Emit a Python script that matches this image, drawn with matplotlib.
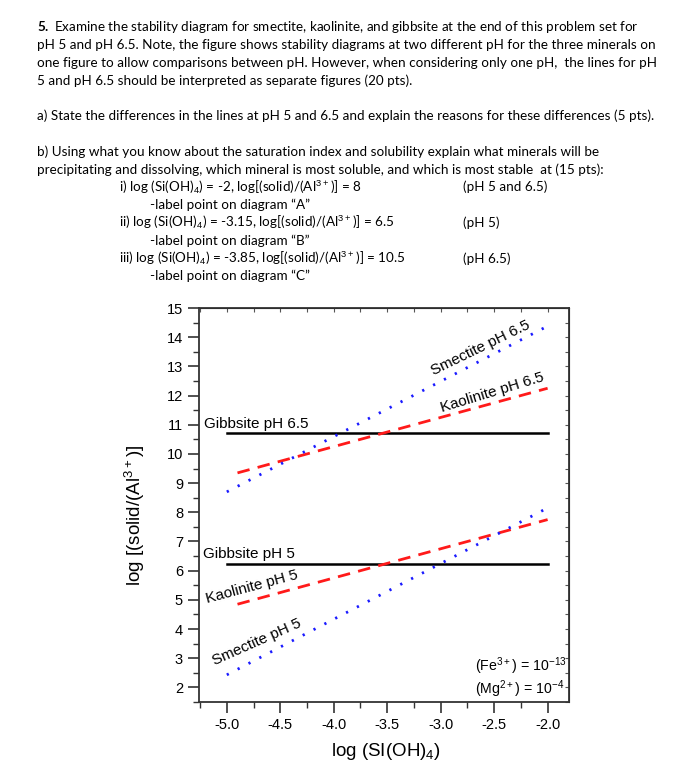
#!/usr/bin/env python

import numpy as np
import matplotlib.pyplot as plt

# ─── Data ───────────────────────────────────────────────────────────
x_range = [-5.0, -2.0]                     # gibbsite lines span
kaol_x = [-4.9, -2.0]
smec_x = [-5.0, -2.0]

gibbsite_65 = [10.72, 10.72]
gibbsite_5 = [6.23, 6.23]
kaolinite_65 = [9.35, 12.25]
kaolinite_5 = [4.85, 7.75]
smectite_65 = [8.70, 14.38]
smectite_5 = [2.43, 8.15]

x_ticks = [-5.0, -4.5, -4.0, -3.5, -3.0, -2.5, -2.0]
y_ticks = list(range(2, 16))

question = [
    (r"$\bf{5.}$ Examine the stability diagram for smectite, kaolinite, and gibbsite at the end of this problem set for", 37),
    ("pH 5 and pH 6.5. Note, the figure shows stability diagrams at two different pH for the three minerals on", 37),
    ("one figure to allow comparisons between pH. However, when considering only one pH,  the lines for pH", 37),
    ("5 and pH 6.5 should be interpreted as separate figures (20 pts).", 37),
    (None, 0),
    ("a) State the differences in the lines at pH 5 and 6.5 and explain the reasons for these differences (5 pts).", 37),
    (None, 0),
    ("b) Using what you know about the saturation index and solubility explain what minerals will be", 37),
    ("precipitating and dissolving, which mineral is most soluble, and which is most stable  at (15 pts):", 37),
    (r"i) log (Si(OH)$_4$) = -2, log[(solid)/(Al$^{3+}$)] = 8", 119),
    ("-label point on diagram \u201cA\u201d", 150),
    (r"ii) log (Si(OH)$_4$) = -3.15, log[(solid)/(Al$^{3+}$)] = 6.5", 119),
    ("-label point on diagram \u201cB\u201d", 150),
    (r"iii) log (Si(OH)$_4$) = -3.85, log[(solid)/(Al$^{3+}$)] = 10.5", 119),
    ("-label point on diagram \u201cC\u201d", 150),
]
ph_notes = [("(pH 5 and 6.5)", 9), ("(pH 5)", 11), ("(pH 6.5)", 13)]
# ────────────────────────────────────────────────────────────────────

plt.rcParams['mathtext.fontset'] = 'custom'
plt.rcParams['mathtext.rm'] = 'Liberation Sans'
plt.rcParams['mathtext.bf'] = 'Lato:bold'

W, H = 700, 782
fig = plt.figure(figsize=(W / 100, H / 100), dpi=100)

# problem text
y0, dy = 27, 17.8
for i, (line, x) in enumerate(question):
    if line is None:
        continue
    fig.text(x / W, 1 - (y0 + i * dy) / H, line, family='Lato',
             fontsize=9.7, va='center', ha='left')
for note, i in ph_notes:
    fig.text(463 / W, 1 - (y0 + i * dy) / H, note, family='Lato',
             fontsize=9.7, va='center', ha='left')

ax = fig.add_axes([199 / W, 1 - 702 / H, 370 / W, 394 / H])
ax.set_xlim(-5.26, -1.80)
ax.set_ylim(1.52, 15.0)

ax.plot(x_range, gibbsite_65, color='black', lw=1.8)
ax.plot(x_range, gibbsite_5, color='black', lw=1.8)
ax.plot(kaol_x, kaolinite_65, color='#ff1a1a', lw=2, ls=(0, (4.5, 3)))
ax.plot(kaol_x, kaolinite_5, color='#ff1a1a', lw=2, ls=(0, (4.5, 3)))
ax.plot(smec_x, smectite_65, color='#1a1aff', lw=2, ls=(0, (0.8, 3.6)))
ax.plot(smec_x, smectite_5, color='#1a1aff', lw=2, ls=(0, (0.8, 3.6)))

lab = dict(family='Liberation Sans', fontsize=11, ha='left', va='baseline',
           rotation_mode='anchor')
ax.text(-5.21, 10.88, 'Gibbsite pH 6.5', **lab)
ax.text(-5.22, 6.44, 'Gibbsite pH 5', **lab)
ax.text(-2.99, 11.44, 'Kaolinite pH 6.5', rotation=17, **lab)
ax.text(-3.07, 12.71, 'Smectite pH 6.5', rotation=26, **lab)
ax.text(-5.18, 4.90, 'Kaolinite pH 5', rotation=15, **lab)
ax.text(-5.11, 2.77, 'Smectite pH 5', rotation=24, **lab)

ax.text(-2.68, 2.72, r'(Fe$^{3+}$) = 10$^{-13}$', family='Liberation Sans',
        fontsize=10.2, va='center')
ax.text(-2.68, 1.93, r'(Mg$^{2+}$) = 10$^{-4}$', family='Liberation Sans',
        fontsize=10.2, va='center')

ax.set_xticks(x_ticks)
ax.set_xticklabels([f'{v:.1f}' for v in x_ticks])
ax.set_xticks(np.arange(-5.25, -1.8, 0.25), minor=True)
ax.set_yticks(y_ticks)
ax.set_yticks(np.arange(1.5, 15.01, 0.5), minor=True)
ax.tick_params(which='major', direction='out', length=8, width=1.2,
               labelsize=10.5, colors='#333333', labelcolor='black')
ax.tick_params(which='minor', direction='out', length=4, width=1.0,
               colors='#333333')
for t in ax.get_xticklabels() + ax.get_yticklabels():
    t.set_family('Liberation Sans')
for s in ax.spines.values():
    s.set_color('#333333')
    s.set_linewidth(1.3)

top = ax.secondary_xaxis('top')
top.set_xticks(np.arange(-5.25, -1.8, 0.25))
top.tick_params(direction='in', length=3, labeltop=False, colors='#555555')
right = ax.secondary_yaxis('right')
right.set_yticks(np.arange(1.5, 15.01, 0.5))
right.tick_params(direction='in', length=3, labelright=False, colors='#555555')

fig.text(386 / W, 1 - 752 / H, r'log (SI(OH)$_4$)', family='Liberation Sans',
         fontsize=13.5, ha='center', va='center')
fig.text(135 / W, 1 - 515 / H, r'log [(solid/(Al$^{3+}$)]', family='Liberation Sans',
         fontsize=13.5, ha='center', va='center', rotation=90)

fig.savefig('out.png', dpi=100)
